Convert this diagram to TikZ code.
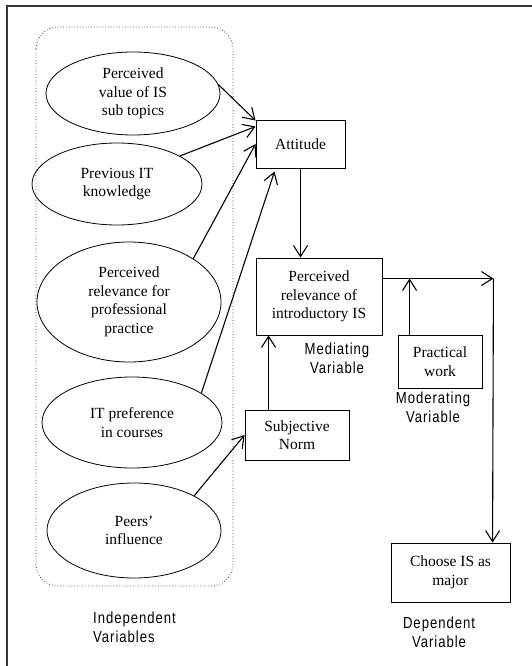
\documentclass[tikz,border=0pt]{standalone}
\usepackage{fontspec}
\setmainfont{Liberation Serif}
\newfontfamily\labfont[FakeStretch=0.82,LetterSpace=6]{Liberation Sans}
\usetikzlibrary{shapes.geometric,arrows.meta,calc}
\tikzset{
  ell/.style={draw,ellipse,line width=0.8pt,inner sep=0pt,align=center,
    font=\fontsize{15.5}{18.5}\selectfont},
  boxn/.style={draw,rectangle,line width=0.9pt,inner sep=0pt,align=center,
    font=\fontsize{15.5}{18.5}\selectfont},
  lab/.style={inner sep=0pt,font=\labfont\fontsize{16}{19}\selectfont},
  arr/.style={line width=1.1pt,-{Straight Barb[length=11pt,width=14pt,line width=1.1pt]}},
  ln/.style={line width=1.1pt}
}
\begin{document}
\begin{tikzpicture}[x=1pt,y=-1pt]
\useasboundingbox (0,0) rectangle (532,666);
% frame
\draw[line width=1.4pt,black!80] (532,6) -- (7,6) -- (7,666);
% dotted group
\draw[dotted,line width=0.8pt,black!75,rounded corners=22pt] (36,27) rectangle (233,586);
% ellipses
\node[ell,minimum width=174pt,minimum height=83pt] (e1) at (133,93.5) {Perceived\\value of IS\\sub topics};
\node[ell,minimum width=170pt,minimum height=82pt] (e2) at (117,184) {Previous IT\\knowledge};
\node[ell,minimum width=184pt,minimum height=120pt] (e3) at (129,302) {Perceived\\relevance for\\professional\\practice};
\node[ell,minimum width=180pt,minimum height=91pt] (e4) at (132,422.5) {IT preference\\in courses};
\node[ell,minimum width=174pt,minimum height=95pt] (e5) at (134,530.5) {Peers'\\influence};
% boxes
\node[boxn,minimum width=89pt,minimum height=48pt] (att) at (300.5,144) {Attitude};
\node[boxn,minimum width=126pt,minimum height=77pt] (pr) at (319,296.5) {Perceived\\relevance of\\introductory IS};
\node[boxn,minimum width=104pt,minimum height=50pt] (sn) at (297,435) {Subjective\\Norm};
\node[boxn,minimum width=84pt,minimum height=53pt] (pw) at (440,361.5) {Practical\\work};
\node[boxn,minimum width=119pt,minimum height=59pt] (ch) at (450.5,572.5) {Choose IS as\\major};
% labels
\node[lab,align=center] (lmed) at (337,358.5) {Mediating\\Variable};
\node[lab,align=center] (lmod) at (433,407) {Moderating\\Variable};
\node[lab,align=left,anchor=west] (lind) at (93,627.5) {Independent\\Variables};
\node[lab,align=center] (ldep) at (439,632.5) {Dependent\\Variable};
% connectors
\draw[arr] (e1.6) -- ($(att.north west)+(0,1)$);
\draw[arr] (e2.24) -- ($(att.north west)+(0,7)$);
\draw[arr] (e3.34) -- (att.west);
\draw[arr] (e4.23) -- ($(att.south west)+(19,3)$);
\draw[arr] (e5.30) -- (sn.west);
\draw[arr] (att.south) -- (att.south |- pr.north);
\coordinate (snt) at ($(sn.north west)+(24,0)$);
\draw[arr] (snt) -- (snt |- pr.south);
\coordinate (pre) at ($(pr.north east)+(0,21)$);
\coordinate (j) at ($(pre)+(111,0)$);
\draw[arr] (pre) -- (j);
\coordinate (cht) at ($(ch.north west)+(102,0)$);
\draw[arr] (j) -- (cht);
\coordinate (pwt) at ($(pw.north west)+(12,0)$);
\draw[arr] (pwt) -- (pwt |- pre);
\end{tikzpicture}
\end{document}
